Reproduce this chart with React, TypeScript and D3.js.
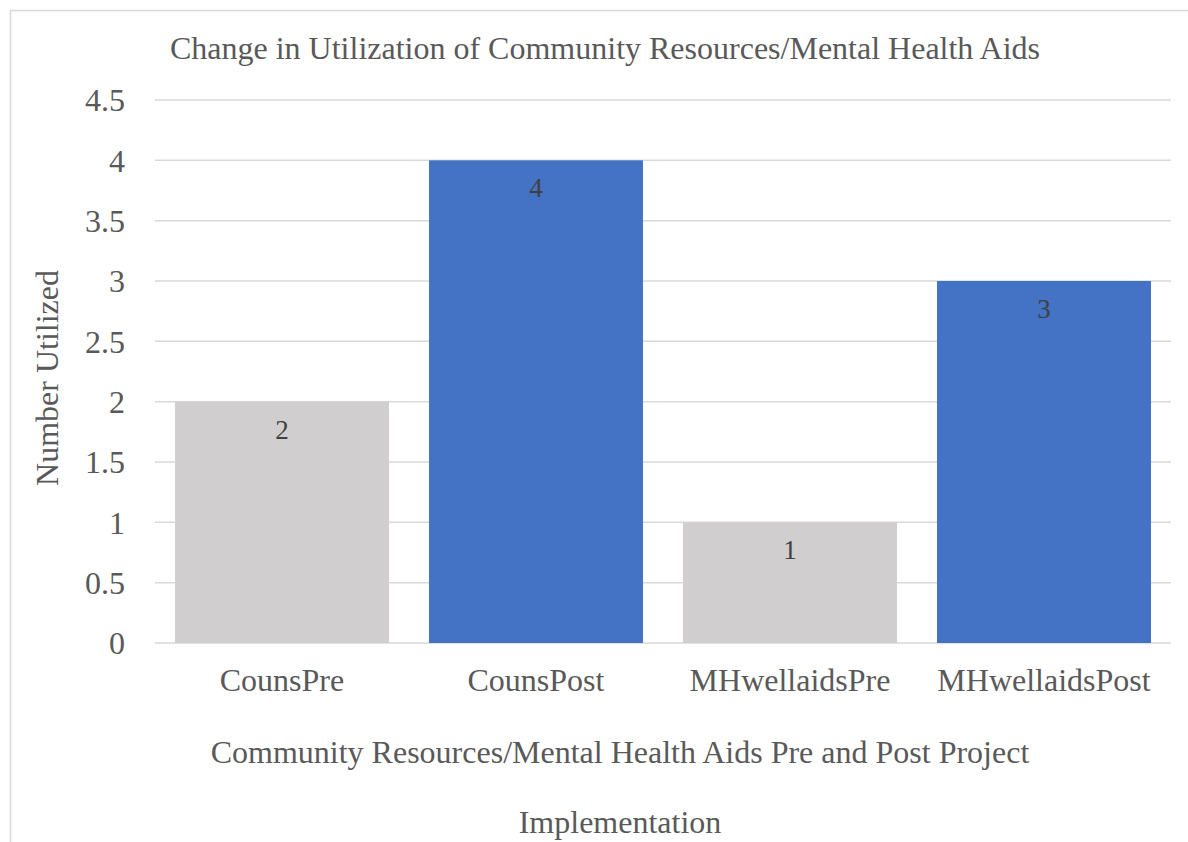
import React from "react";
import * as d3 from "d3";

const categories = ["CounsPre", "CounsPost", "MHwellaidsPre", "MHwellaidsPost"];
const values = [2, 4, 1, 3];
const barColors = ["#d0cece", "#4472c4", "#d0cece", "#4472c4"];
const yTicks = [0, 0.5, 1, 1.5, 2, 2.5, 3, 3.5, 4, 4.5];
const yTickLabels = ["0", "0.5", "1", "1.5", "2", "2.5", "3", "3.5", "4", "4.5"];
const title = "Change in Utilization of Community Resources/Mental Health Aids";
const yTitle = "Number Utilized";
const xTitleLines = ["Community Resources/Mental Health Aids Pre and Post Project", "Implementation"];

const W = 1188;
const H = 842;
const plot = { left: 155, right: 1171, top: 100, bottom: 643 };
const FONT = "'Liberation Serif', 'Times New Roman', serif";

export default function App() {
  const x = d3
    .scaleBand<string>()
    .domain(categories)
    .range([plot.left, plot.right])
    .paddingInner(0.1575)
    .paddingOuter(0.0787);
  const y = d3.scaleLinear().domain([0, 4.5]).range([plot.bottom, plot.top]);

  return (
    <svg
      width={W}
      height={H}
      style={{ position: "absolute", left: 0, top: 0, background: "#fff" }}
      fontFamily={FONT}
    >
      <rect x={0} y={0} width={W} height={H} fill="#fff" />
      <rect x={10.5} y={10.5} width={1190} height={850} fill="none" stroke="#d9d9d9" strokeWidth={1.5} />
      <text x={605} y={59} textAnchor="middle" fontSize={32} fill="#595959">
        {title}
      </text>
      {yTicks.map((t, i) => (
        <g key={t}>
          <line x1={plot.left} x2={plot.right} y1={y(t)} y2={y(t)} stroke="#d9d9d9" strokeWidth={1.5} />
          <text x={125} y={y(t)} dy="0.35em" textAnchor="end" fontSize={32} fill="#595959">
            {yTickLabels[i]}
          </text>
        </g>
      ))}
      {categories.map((c, i) => (
        <g key={c}>
          <rect x={x(c)} y={y(values[i])} width={x.bandwidth()} height={y(0) - y(values[i])} fill={barColors[i]} />
          <text
            x={(x(c) as number) + x.bandwidth() / 2}
            y={y(values[i]) + 37}
            textAnchor="middle"
            fontSize={27}
            fill="#404040"
          >
            {values[i]}
          </text>
          <text
            x={(x(c) as number) + x.bandwidth() / 2}
            y={691}
            textAnchor="middle"
            fontSize={32}
            fill="#595959"
          >
            {c}
          </text>
        </g>
      ))}
      <text
        transform={`translate(58, 378) rotate(-90)`}
        textAnchor="middle"
        fontSize={32}
        fill="#595959"
      >
        {yTitle}
      </text>
      {xTitleLines.map((l, i) => (
        <text key={i} x={620} y={763 + i * 70} textAnchor="middle" fontSize={32} fill="#595959">
          {l}
        </text>
      ))}
    </svg>
  );
}
